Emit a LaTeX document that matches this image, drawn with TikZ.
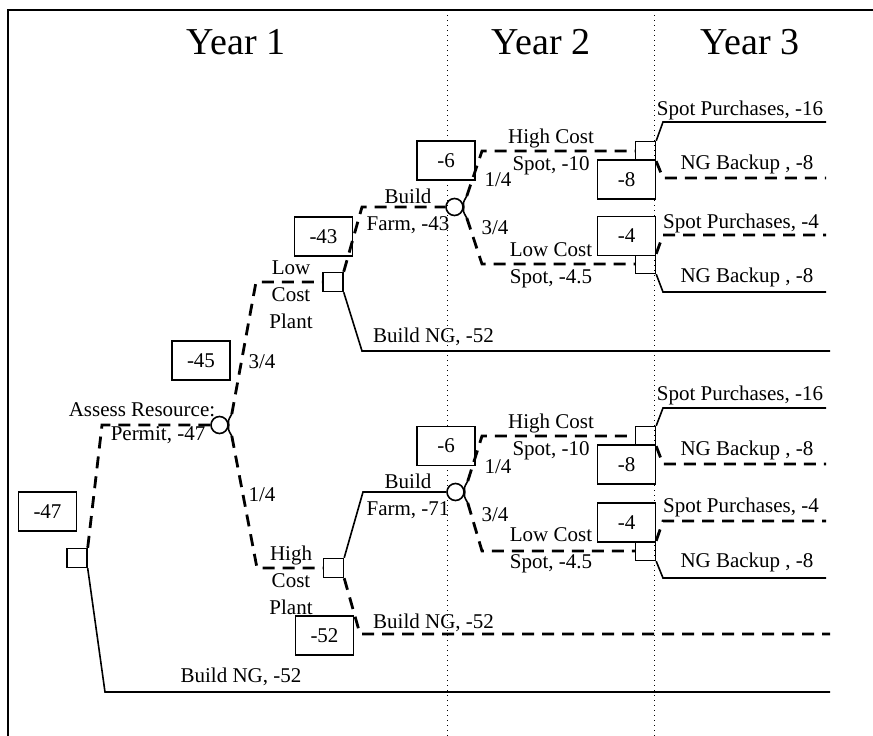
\documentclass[tikz,border=0pt]{standalone}
\usepackage{fontspec}
\setmainfont{Liberation Serif}
\usetikzlibrary{calc, positioning}

\begin{document}
\begin{tikzpicture}[x=1pt, y=-1pt,
    every node/.style={font=\fontsize{21}{27}\selectfont, inner sep=0pt, align=center},
    valbox/.style={draw, fill=white, line width=1.4pt, minimum width=58pt, minimum height=39pt},
    decision/.style={draw, line width=1.4pt, minimum width=20pt, minimum height=19pt},
    chance/.style={circle, draw, line width=1.6pt, minimum size=17pt},
    solidbranch/.style={line width=1.6pt},
    dashbranch/.style={line width=2.8pt, dash pattern=on 12pt off 8pt},
    yearlabel/.style={font=\fontsize{38}{40}\selectfont},
    colline/.style={line width=0.8pt, dash pattern=on 1pt off 4pt}]
    \useasboundingbox (0,0) rectangle (873,736);

    % frame and year columns
    \draw[line width=1.8pt] (8,736) -- (8,10) -- (873,10);
    \foreach \x in {447, 654}
        \draw[colline] (\x,10) -- (\x,736);
    \node[yearlabel] (year1) at (236,42) {Year 1};
    \node[yearlabel] (year2) at (541,42) {Year 2};
    \node[yearlabel] (year3) at (750,42) {Year 3};

    % decision nodes
    \node[decision] (root) at (77,558) {};
    \node[decision] (lcp) at (333,282) {};
    \node[decision] (hcp) at (333.5,568) {};
    \node[decision] (sqA1) at (645.5,151) {};
    \node[decision] (sqA2) at (645.5,264) {};
    \node[decision] (sqB1) at (645.5,436) {};
    \node[decision] (sqB2) at (645.5,551) {};

    % chance nodes
    \node[chance] (assess) at (219.5,425) {};
    \node[chance] (farmA) at (454.5,207) {};
    \node[chance] (farmB) at (455.5,492) {};
    \foreach \c in {assess, farmA, farmB} {
        \coordinate (\c-t) at ([shift={(3,-11)}]\c.east);
        \coordinate (\c-b) at ([shift={(3,11)}]\c.east);
        \draw[line width=1.6pt] (\c-t) .. controls ([shift={(-1,-4)}]\c.east) .. (\c.east)
            .. controls ([shift={(-1,4)}]\c.east) .. (\c-b);
    }

    % expected values
    \node[valbox] (vRoot) at (47.5,511.5) {-47};
    \node[valbox] (v45) at (201,360.5) {-45};
    \node[valbox] (v43) at (323.5,236.5) {-43};
    \node[valbox] (v6A) at (446,160.5) {-6};
    \node[valbox] (v8A) at (626.5,179.5) {-8};
    \node[valbox] (v4A) at (626.5,236) {-4};
    \node[valbox] (v6B) at (446,446) {-6};
    \node[valbox] (v8B) at (626.5,464.5) {-8};
    \node[valbox] (v4B) at (626.5,522.5) {-4};
    \node[valbox] (v52) at (324.5,635.5) {-52};

    % free ends
    \coordinate (eRoot) at (830,692);
    \coordinate (eLcp) at (830,351);
    \coordinate (eHcp) at (830,634);
    \coordinate (eA1t) at (826,122);
    \coordinate (eA1b) at (826,178);
    \coordinate (eA2t) at (826,235);
    \coordinate (eA2b) at (826,292);
    \coordinate (eB1t) at (826,408);
    \coordinate (eB1b) at (826,464);
    \coordinate (eB2t) at (826,521);
    \coordinate (eB2b) at (826,578);

    % year 1 branches
    \draw[dashbranch] (root.north east) -- (102,425) -- (assess.west);
    \draw[solidbranch] (root.south east) -- (105,692) -- (eRoot);
    \draw[dashbranch] (assess-t) -- (256,282) -- (lcp.west);
    \draw[dashbranch] (assess-b) -- (257,568) -- (hcp.west);
    \draw[dashbranch] (lcp.north east) -- (362,207) -- (farmA.west);
    \draw[solidbranch] (lcp.south east) -- (362,351) -- (eLcp);
    \draw[solidbranch] (hcp.north east) -- (363,492) -- (farmB.west);
    \draw[dashbranch] (hcp.south east) -- (360,634) -- (eHcp);

    % year 2 branches
    \draw[dashbranch] (farmA-t) -- (482,151) -- (sqA1.west);
    \draw[dashbranch] (farmA-b) -- (482,264) -- (sqA2.west);
    \draw[dashbranch] (farmB-t) -- (482,436) -- (sqB1.west);
    \draw[dashbranch] (farmB-b) -- (482,551) -- (sqB2.west);

    % year 3 branches
    \draw[solidbranch] (sqA1.north east) -- (663,122) -- (eA1t);
    \draw[dashbranch] (sqA1.south east) -- (663,178) -- (eA1b);
    \draw[dashbranch] (sqA2.north east) -- (663,235) -- (eA2t);
    \draw[solidbranch] (sqA2.south east) -- (663,292) -- (eA2b);
    \draw[solidbranch] (sqB1.north east) -- (663,408) -- (eB1t);
    \draw[dashbranch] (sqB1.south east) -- (663,464) -- (eB1b);
    \draw[dashbranch] (sqB2.north east) -- (663,521) -- (eB2t);
    \draw[solidbranch] (sqB2.south east) -- (663,578) -- (eB2b);

    % labels
    \node (lAssess) at (142,410) {Assess Resource:};
    \node (lPermit) at (158,435) {Permit, -47};
    \node (pLcp) at (262,362) {3/4};
    \node (pHcp) at (262,495) {1/4};
    \node (lLcp) at (291,295) {Low\\Cost\\Plant};
    \node (lHcp) at (291,580) {High\\Cost\\Plant};
    \node (lFarmA) at (408,211.5) {Build\\Farm, -43};
    \node (lFarmB) at (408,496.5) {Build\\Farm, -71};
    \node[anchor=west] (lNgA) at (373,337) {Build NG, -52};
    \node[anchor=west] (lNgB) at (373,623) {Build NG, -52};
    \node (lNgRoot) at (241,677) {Build NG, -52};
    \node (pA1) at (498,180) {1/4};
    \node (pA2) at (495,228) {3/4};
    \node (pB1) at (498,467) {1/4};
    \node (pB2) at (495,515) {3/4};
    \node (lHighA) at (551,151.5) {High Cost\\Spot, -10};
    \node (lLowA) at (551,265) {Low Cost\\Spot, -4.5};
    \node (lHighB) at (551,437) {High Cost\\Spot, -10};
    \node (lLowB) at (551,550) {Low Cost\\Spot, -4.5};
    \node (lA1t) at (740,110) {Spot Purchases, -16};
    \node (lA1b) at (747,164) {NG Backup , -8};
    \node (lA2t) at (741,223) {Spot Purchases, -4};
    \node (lA2b) at (747,277) {NG Backup , -8};
    \node (lB1t) at (740,395) {Spot Purchases, -16};
    \node (lB1b) at (747,450) {NG Backup , -8};
    \node (lB2t) at (741,507) {Spot Purchases, -4};
    \node (lB2b) at (747,562) {NG Backup , -8};
\end{tikzpicture}
\end{document}
